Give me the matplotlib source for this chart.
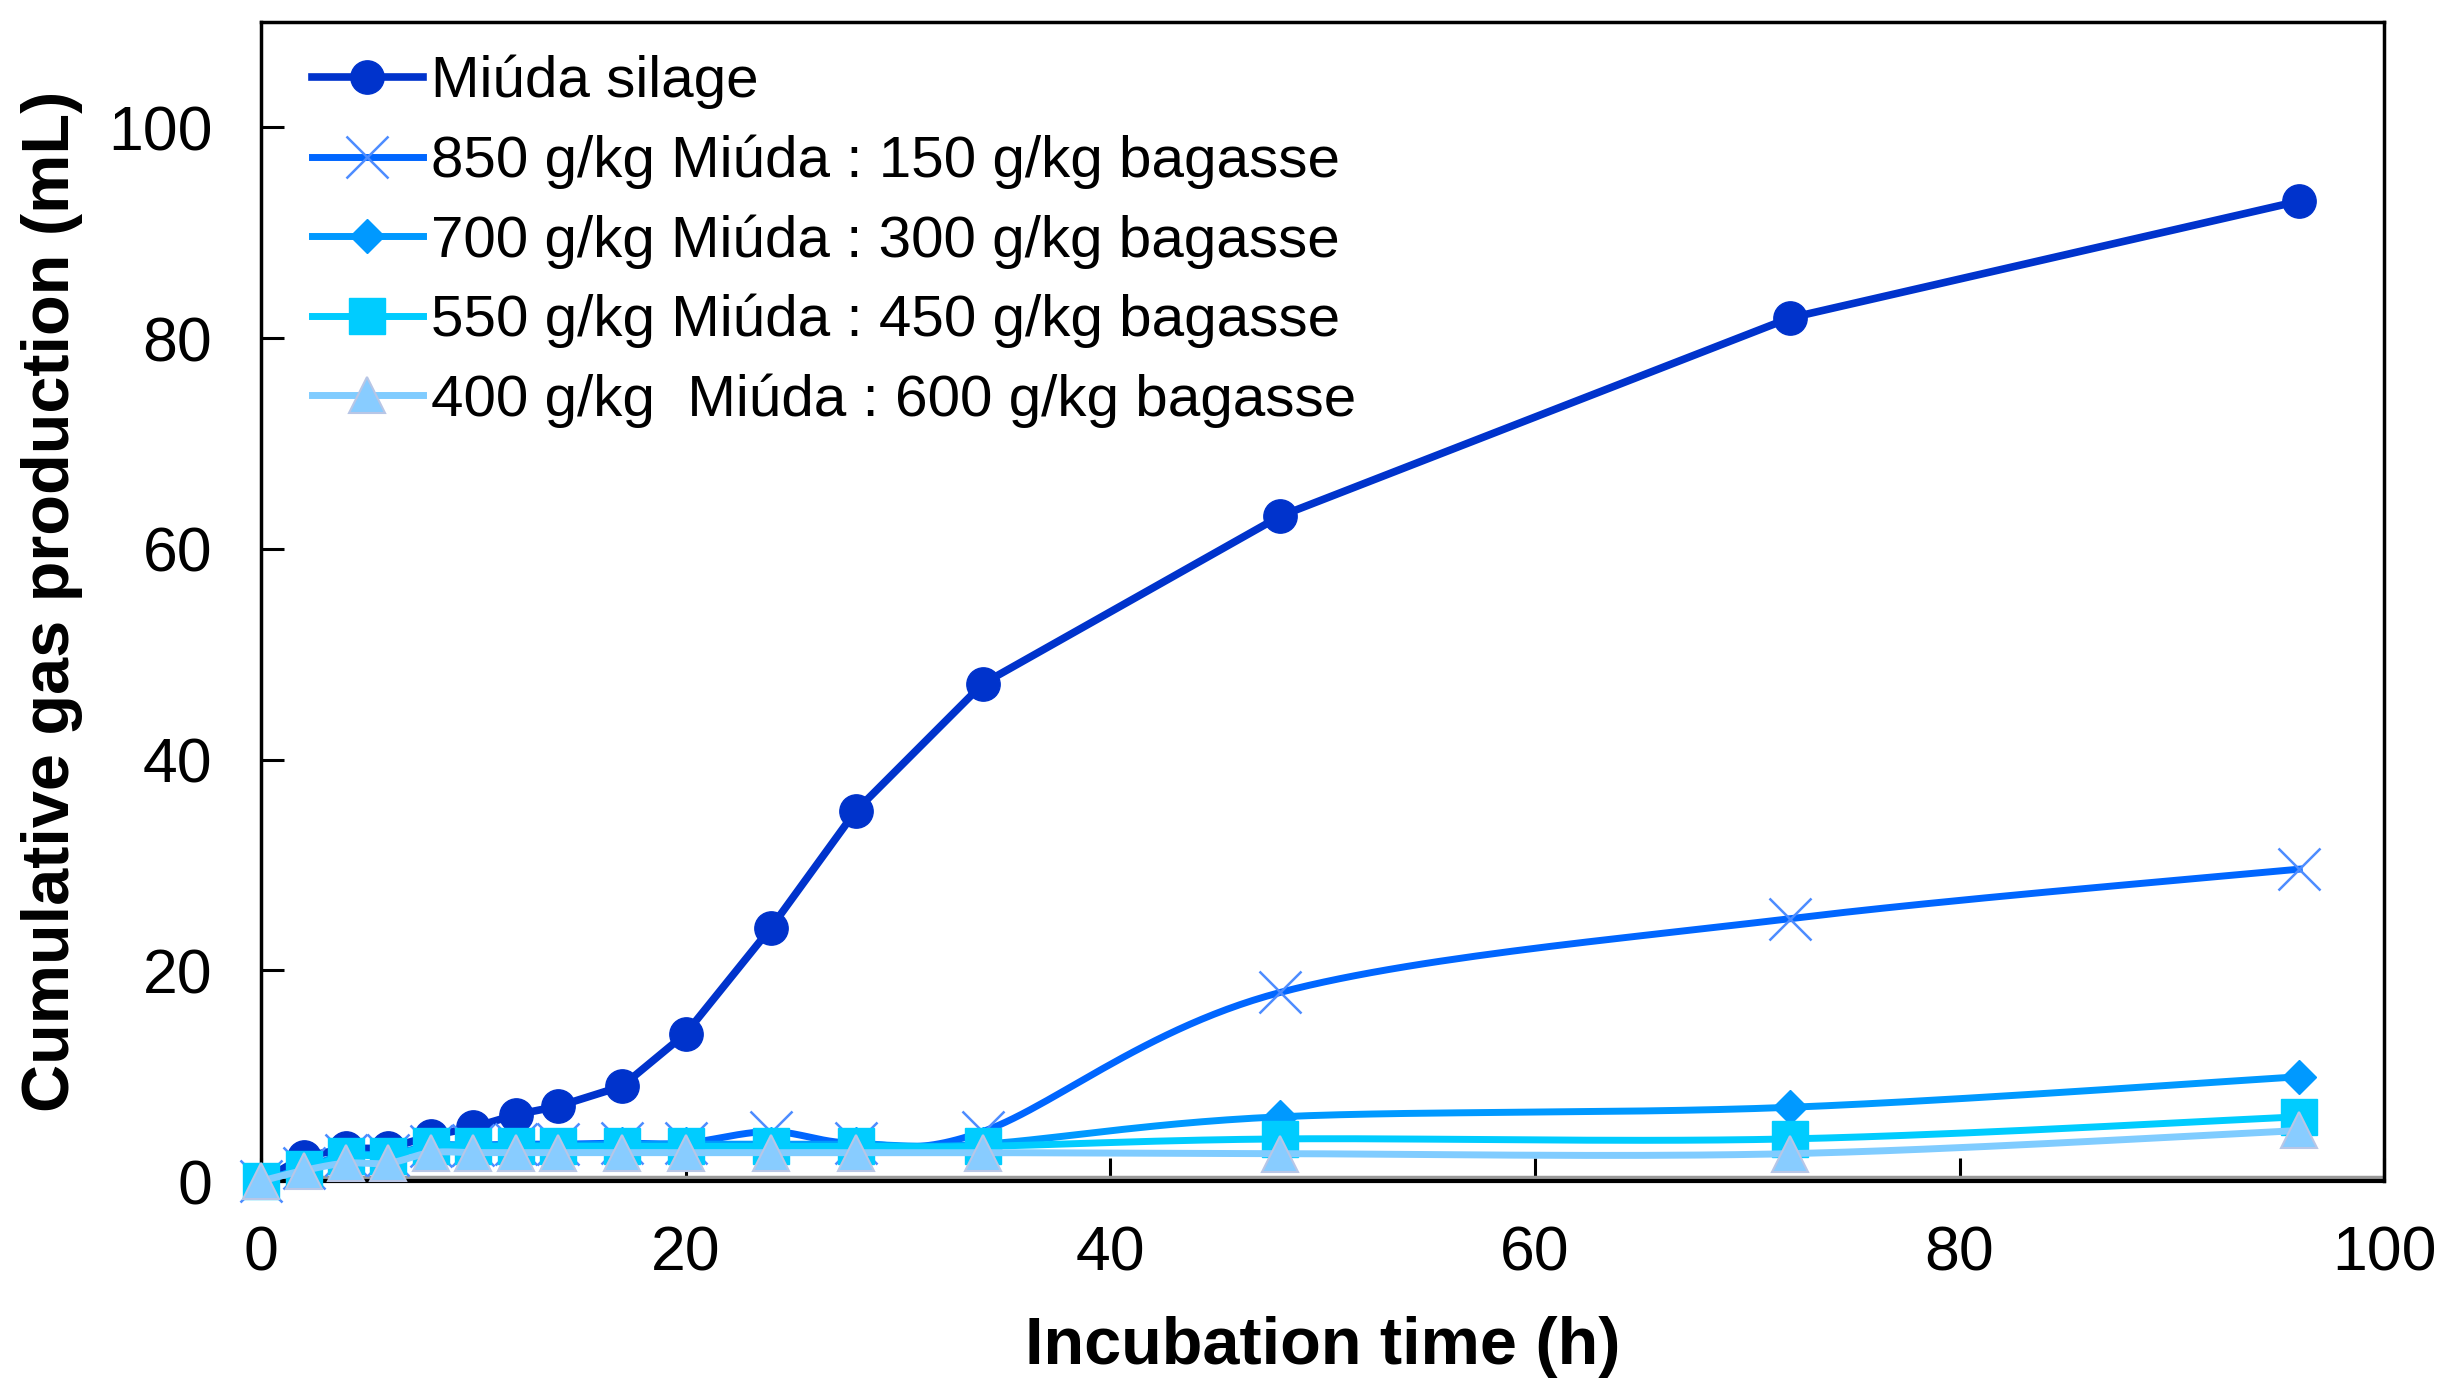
import numpy as np
import matplotlib
matplotlib.use('Agg')
from matplotlib import pyplot as plt
from matplotlib.lines import Line2D

plt.rcParams['font.family'] = ['Liberation Sans', 'DejaVu Sans']

# incubation times (h)
hours = [0, 2, 4, 6, 8, 10, 12, 14, 17, 20, 24, 28, 34, 48, 72, 96]

# cumulative gas production (mL)
miuda = [0, 2.3, 3.1, 3.1, 4.3, 5.1, 6.3, 7.1, 9.0, 14.0, 24.0, 35.1, 47.2, 63.1, 81.9, 93.0]
mix_850 = [0, 1.2, 2.5, 2.5, 3.3, 3.4, 3.5, 3.5, 3.6, 3.6, 4.7, 3.6, 4.7, 17.9, 24.9, 29.6]
mix_700 = [0, 1.2, 2.5, 2.5, 3.4, 3.4, 3.4, 3.4, 3.5, 3.5, 3.5, 3.5, 3.5, 6.1, 7.0, 9.9]
mix_550 = [0, 1.1, 2.4, 2.4, 3.3, 3.3, 3.3, 3.3, 3.3, 3.3, 3.3, 3.3, 3.3, 4.0, 4.0, 6.1]
mix_400 = [0, 1.0, 1.7, 1.7, 2.7, 2.7, 2.7, 2.7, 2.7, 2.7, 2.7, 2.7, 2.7, 2.6, 2.6, 4.8]

labels = ['Miúda silage',
          '850 g/kg Miúda : 150 g/kg bagasse',
          '700 g/kg Miúda : 300 g/kg bagasse',
          '550 g/kg Miúda : 450 g/kg bagasse',
          '400 g/kg  Miúda : 600 g/kg bagasse']


def smooth(x, y, n=30):
    # excel style smoothed line: bezier segments with catmull-rom control points
    x = np.asarray(x, float)
    y = np.asarray(y, float)
    px = np.concatenate([[x[0]], x, [x[-1]]])
    py = np.concatenate([[y[0]], y, [y[-1]]])
    t = np.linspace(0, 1, n)[:, None]
    xs, ys = [], []
    for i in range(1, len(px) - 2):
        p0 = np.array([px[i], py[i]])
        p3 = np.array([px[i + 1], py[i + 1]])
        p1 = p0 + (np.array([px[i + 1], py[i + 1]]) - np.array([px[i - 1], py[i - 1]])) / 6
        p2 = p3 - (np.array([px[i + 2], py[i + 2]]) - np.array([px[i], py[i]])) / 6
        b = (1 - t) ** 3 * p0 + 3 * (1 - t) ** 2 * t * p1 + 3 * (1 - t) * t ** 2 * p2 + t ** 3 * p3
        xs.append(b[:, 0])
        ys.append(b[:, 1])
    return np.concatenate(xs), np.concatenate(ys)


fig = plt.figure(figsize=(24.47, 13.89), dpi=100)
ax = fig.add_axes([0.1067, 0.1497, 0.8676, 0.8345])

# Miúda silage: straight segments, big dark circles
ax.plot(hours, miuda, color='#0033CC', lw=5.5, marker='o', ms=24,
        mec='#0033CC', mfc='#0033CC', clip_on=False, zorder=3)

styles = [
    (mix_850, '#0066FF', dict(marker='x', ms=30, mec='#4D8CFF', mew=1.8)),
    (mix_700, '#0099FF', dict(marker='D', ms=17, mec='#0099FF', mfc='#0099FF')),
    (mix_550, '#00CCFF', dict(marker='s', ms=26, mec='#00CCFF', mfc='#00CCFF')),
    (mix_400, '#80CCFF', dict(marker='^', ms=26, mec='#B8C6E6', mfc='#88CCFF', mew=1.5)),
]
z = 4
for vals, col, mk in styles:
    sx, sy = smooth(hours, vals)
    ax.plot(sx, sy, color=col, lw=5, clip_on=False, zorder=z)
    ax.plot(hours, vals, ls='none', clip_on=False, zorder=z + 0.5, **mk)
    z += 1

# gray shadow line along the x axis (excel artefact)
ax.axhline(0.4, color='#999999', lw=2.5, zorder=2)

ax.set_xlim(0, 100)
ax.set_ylim(0, 110)
ax.set_xticks([0, 20, 40, 60, 80, 100])
ax.set_yticks([0, 20, 40, 60, 80, 100])
ax.tick_params(axis='both', direction='in', length=16.5, width=2.2, labelsize=45)
ax.tick_params(axis='x', pad=31)
ax.tick_params(axis='y', pad=35)
for s in ax.spines.values():
    s.set_linewidth(2.5)
    s.set_color('black')
ax.spines['bottom'].set_linewidth(3)

ax.set_xlabel('Incubation time (h)', fontsize=48, fontweight='bold', labelpad=24)
ax.set_ylabel('Cumulative gas production (mL)', fontsize=48, fontweight='bold', labelpad=18)

handles = [Line2D([], [], color='#0033CC', lw=5.5, marker='o', ms=24)]
for vals, col, mk in styles:
    handles.append(Line2D([], [], color=col, lw=5, **mk))
ax.legend(handles, labels, loc='upper left', bbox_to_anchor=(0.024, 0.9715),
          frameon=False, fontsize=42, numpoints=1, handlelength=1.9,
          handletextpad=0.14, labelspacing=0.43, borderpad=0, borderaxespad=0)

fig.savefig('out.png', dpi=100)
